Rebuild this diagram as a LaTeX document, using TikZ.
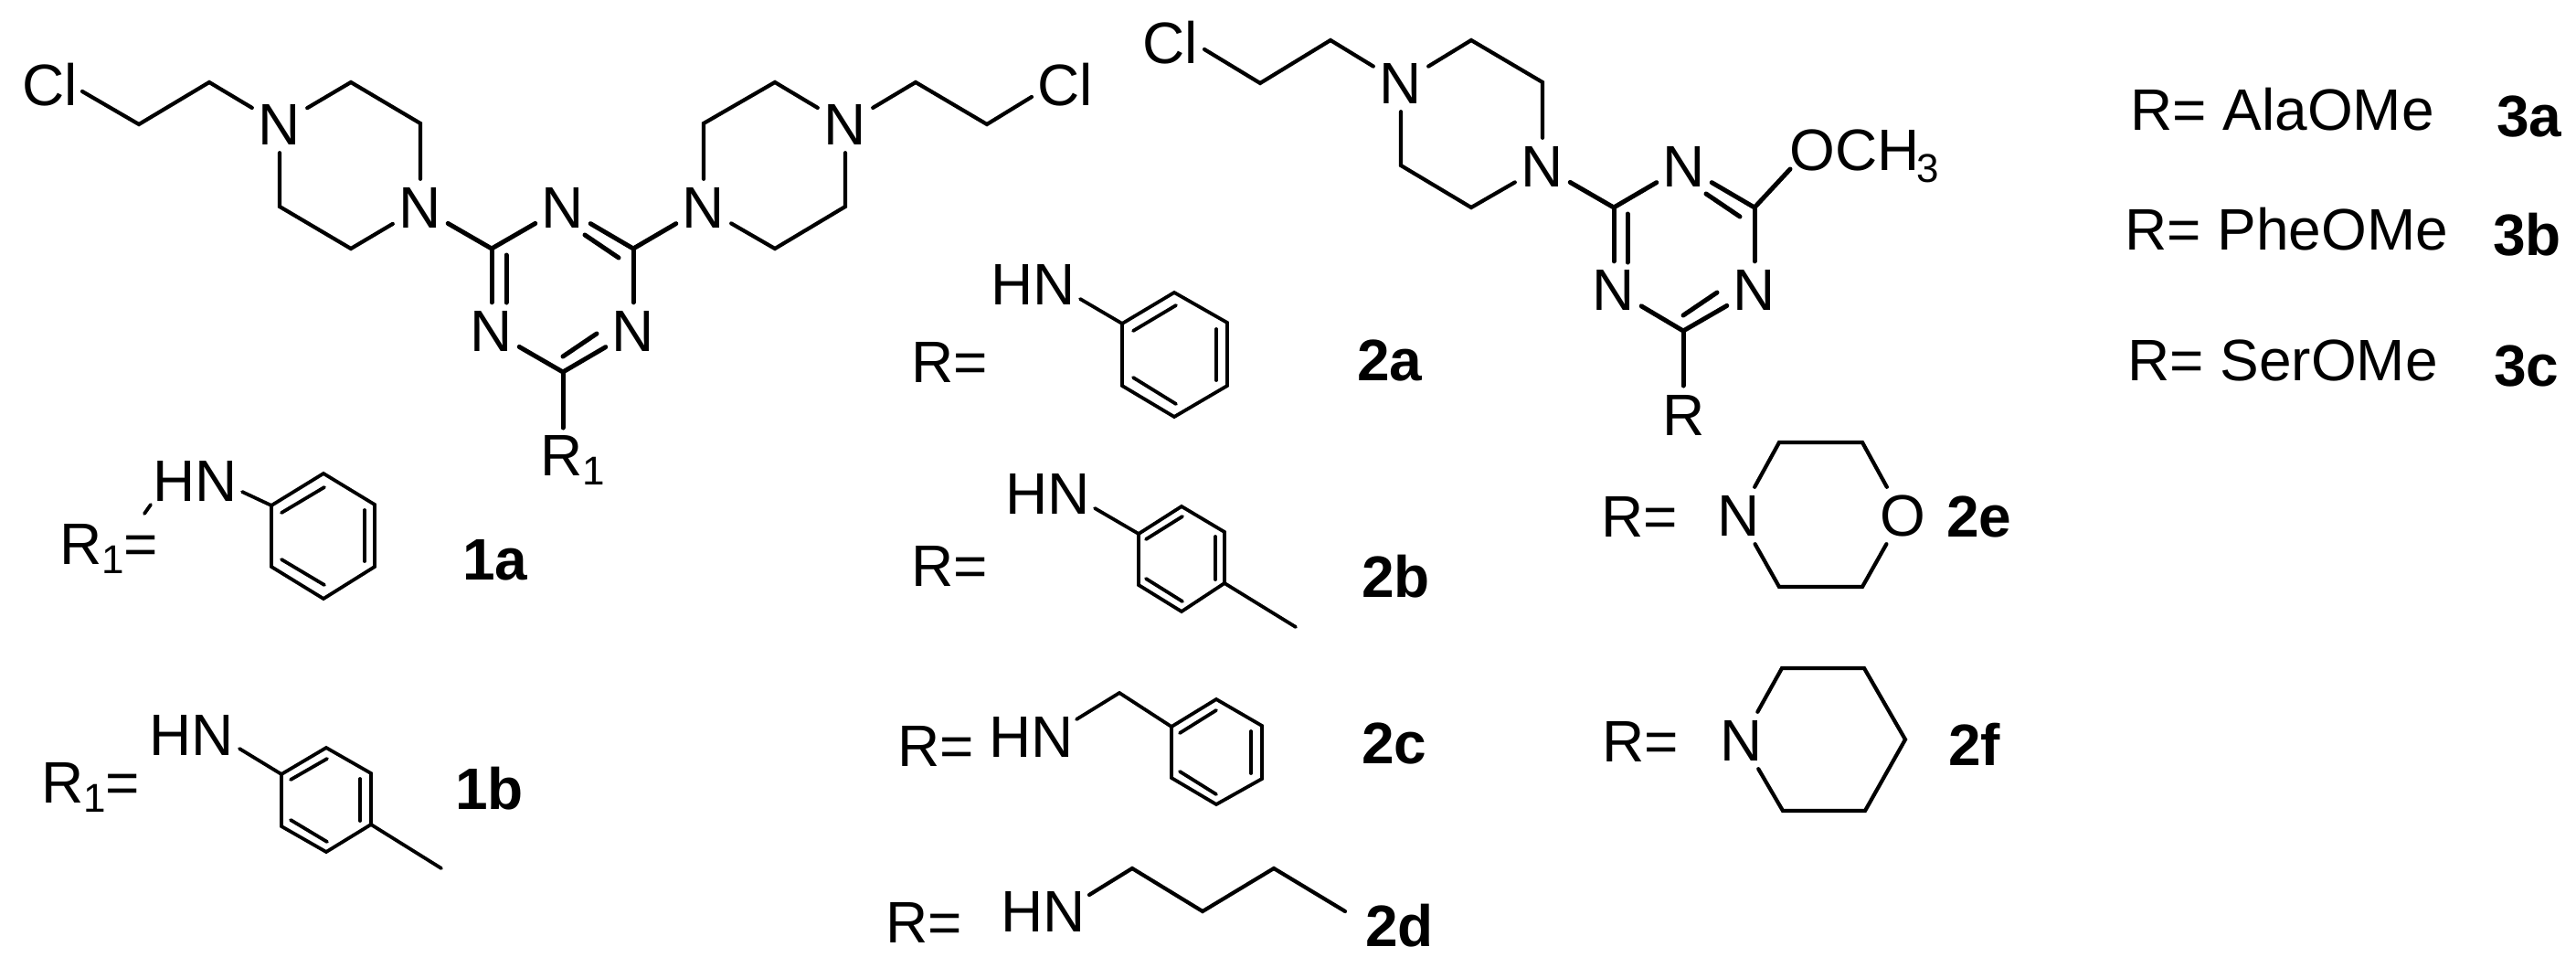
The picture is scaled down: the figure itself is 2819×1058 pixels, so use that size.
\documentclass[tikz,border=0pt]{standalone}
\usepackage{fontspec}
\setmainfont{Liberation Sans}
\newcommand{\subt}[2][-10pt]{\raisebox{#1}{\fontsize{44}{44}\selectfont #2}}
\tikzset{
  x=1pt,y=-1pt,
  bond/.style={line width=4.2pt,line cap=round,line join=miter,black},
  ringbond/.style={bond,line width=5pt},
  thinbond/.style={bond,line width=3.8pt},
  atom/.style={inner sep=0pt,minimum width=60pt,minimum height=62pt,font=\fontsize{64}{70}\selectfont},
  txt/.style={inner sep=0pt,anchor=base west,font=\fontsize{64}{70}\selectfont},
  tag/.style={inner sep=0pt,anchor=base west,font=\fontsize{64}{70}\selectfont\bfseries},
}
\begin{document}
\begin{tikzpicture}
\useasboundingbox (0,0) rectangle (2819,1058);
% ---------- molecule 1 ----------
\foreach \n/\x/\y in {a1N1/306/136,a1N2/460/227,a1N3/616/227,a1N4/538/362,a1N5/770/227,a1N6/693/362,a1N7/925/136}
  \node[atom] (\n) at (\x,\y) {N};
\foreach \n/\x/\y in {c1a/90/100,c1b/152/136,c1c/229/90,p1/306/226,p2/384/272,p3/460/135,p4/384/90,
  t1/538/272,t2/693/272,t3/616/407,i1a/554/279,i1b/554/331,i2a/640/257,i2b/677/282,i3a/616/390,i3b/653/365,r1e/616/468,
  q1/770/135,q2/848/90,q3/925/226,q4/848/272,d1/1002/90,d2/1080/136,d3/1129/106}
  \coordinate (\n) at (\x,\y);
\node[txt] (cl1) at (24,115) {Cl};
\node[txt] (cl2) at (1135,115) {Cl};
\node[txt] (r1lab) at (591,520) {R\subt{1}};
\draw[bond] (c1a) -- (c1b) -- (c1c) -- (a1N1);
\draw[bond] (a1N1) -- (p1) -- (p2) -- (a1N2);
\draw[bond] (a1N2) -- (p3) -- (p4) -- (a1N1);
\draw[ringbond] (a1N2) -- (t1) -- (a1N3);
\draw[ringbond] (t1) -- (a1N4);
\draw[ringbond] (i1a) -- (i1b);
\draw[ringbond] (a1N3) -- (t2) -- (a1N5);
\draw[ringbond] (i2a) -- (i2b);
\draw[ringbond] (t2) -- (a1N6);
\draw[ringbond] (a1N4) -- (t3) -- (a1N6);
\draw[ringbond] (i3a) -- (i3b);
\draw[ringbond] (t3) -- (r1e);
\draw[bond] (a1N5) -- (q1) -- (q2) -- (a1N7);
\draw[bond] (a1N7) -- (q3) -- (q4) -- (a1N5);
\draw[bond] (a1N7) -- (d1) -- (d2) -- (d3);
% ---------- molecule 2 ----------
\foreach \n/\x/\y in {b1N1/1533/91,b1N2/1688/182,b1N3/1843/182,b1N4/1766/317,b1N6/1920/317}
  \node[atom] (\n) at (\x,\y) {N};
\foreach \n/\x/\y in {e1/1318/54,e2/1379/91,e3/1456/44,g1/1533/181,g2/1610/227,g3/1688/90,g4/1610/44,
  u1/1766/227,u2/1920/227,u3/1842/362,j1a/1781/234,j1b/1781/287,j2a/1867/212,j2b/1904/237,j3a/1842/345,j3b/1879/320,
  re/1842/422,oe/1959/185}
  \coordinate (\n) at (\x,\y);
\node[txt] (cl3) at (1250,69) {Cl};
\node[txt] (och) at (1958,186) {OCH\kern-3pt\subt[-13pt]{3}};
\node[txt] (rlab) at (1819,476) {R};
\draw[bond] (e1) -- (e2) -- (e3) -- (b1N1);
\draw[bond] (b1N1) -- (g1) -- (g2) -- (b1N2);
\draw[bond] (b1N2) -- (g3) -- (g4) -- (b1N1);
\draw[ringbond] (b1N2) -- (u1) -- (b1N3);
\draw[ringbond] (u1) -- (b1N4);
\draw[ringbond] (j1a) -- (j1b);
\draw[ringbond] (b1N3) -- (u2) -- (oe);
\draw[ringbond] (j2a) -- (j2b);
\draw[ringbond] (u2) -- (b1N6);
\draw[ringbond] (b1N4) -- (u3) -- (b1N6);
\draw[ringbond] (j3a) -- (j3b);
\draw[ringbond] (u3) -- (re);
% ---------- 1a ----------
\node[txt] (r1a) at (65,617) {R\subt{1}=};
\node[txt] (hn1a) at (167,548) {HN};
\node[tag] (l1a) at (506,634) {1a};
\foreach \n/\x/\y in {k0/265/538,k1/297/553,k2/354/518,k3/410/552,k4/410/620,k5/354/655,k6/297/620,
  k7/308/561,k8/355/533,k9/399/558,k10/399/614,k11/308/612,k12/355/640,kd1/165/552,kd2/158/562}
  \coordinate (\n) at (\x,\y);
\draw[thinbond] (k0) -- (k1);
\draw[thinbond] (k1) -- (k2) -- (k3) -- (k4) -- (k5) -- (k6) -- cycle;
\draw[thinbond] (k7) -- (k8);
\draw[thinbond] (k9) -- (k10);
\draw[thinbond] (k11) -- (k12);
\draw[thinbond] (kd1) -- (kd2);
% ---------- 1b ----------
\node[txt] (r1b) at (45,878) {R\subt{1}=};
\node[txt] (hn1b) at (163,826) {HN};
\node[tag] (l1b) at (498,885) {1b};
\foreach \n/\x/\y in {m0/262/819,m1/308/847,m2/357/818,m3/406/846,m4/406/902,m5/357/932,m6/308/904,
  m7/318/853,m8/358/830,m9/394/852,m10/394/898,m11/318/897,m12/358/921,m13/483/950}
  \coordinate (\n) at (\x,\y);
\draw[thinbond] (m0) -- (m1);
\draw[thinbond] (m1) -- (m2) -- (m3) -- (m4) -- (m5) -- (m6) -- cycle;
\draw[thinbond] (m7) -- (m8);
\draw[thinbond] (m9) -- (m10);
\draw[thinbond] (m11) -- (m12);
\draw[thinbond] (m4) -- (m13);
% ---------- 2a ----------
\node[txt] (r2a) at (997,418) {R=};
\node[txt] (hn2a) at (1084,333) {HN};
\node[tag] (l2a) at (1485,416) {2a};
\foreach \n/\x/\y in {s0/1182/327,s1/1228/354,s2/1285/320,s3/1343/353,s4/1343/422,s5/1285/456,s6/1228/422,
  s7/1240/362,s8/1287/334,s9/1331/360,s10/1331/416,s11/1240/413,s12/1287/442}
  \coordinate (\n) at (\x,\y);
\draw[thinbond] (s0) -- (s1);
\draw[thinbond] (s1) -- (s2) -- (s3) -- (s4) -- (s5) -- (s6) -- cycle;
\draw[thinbond] (s7) -- (s8);
\draw[thinbond] (s9) -- (s10);
\draw[thinbond] (s11) -- (s12);
% ---------- 2b ----------
\node[txt] (r2b) at (997,641) {R=};
\node[txt] (hn2b) at (1100,562) {HN};
\node[tag] (l2b) at (1490,653) {2b};
\foreach \n/\x/\y in {v0/1198/556,v1/1246/584,v2/1293/554,v3/1340/582,v4/1340/638,v5/1293/669,v6/1246/640,
  v7/1254/590,v8/1294/565,v9/1330/587,v10/1330/634,v11/1254/633,v12/1294/658,v13/1418/686}
  \coordinate (\n) at (\x,\y);
\draw[thinbond] (v0) -- (v1);
\draw[thinbond] (v1) -- (v2) -- (v3) -- (v4) -- (v5) -- (v6) -- cycle;
\draw[thinbond] (v7) -- (v8);
\draw[thinbond] (v9) -- (v10);
\draw[thinbond] (v11) -- (v12);
\draw[thinbond] (v4) -- (v13);
% ---------- 2c ----------
\node[txt] (r2c) at (982,838) {R=};
\node[txt] (hn2c) at (1082,828) {HN};
\node[tag] (l2c) at (1490,835) {2c};
\foreach \n/\x/\y in {w0/1178/787,wc/1225/758,w1/1282/795,w2/1331/765,w3/1381/794,w4/1381/852,w5/1331/880,w6/1282/851,
  w7/1291/802,w8/1331/777,w9/1369/800,w10/1369/846,w11/1291/844,w12/1331/869}
  \coordinate (\n) at (\x,\y);
\draw[thinbond] (w0) -- (wc) -- (w1);
\draw[thinbond] (w1) -- (w2) -- (w3) -- (w4) -- (w5) -- (w6) -- cycle;
\draw[thinbond] (w7) -- (w8);
\draw[thinbond] (w9) -- (w10);
\draw[thinbond] (w11) -- (w12);
% ---------- 2d ----------
\node[txt] (r2d) at (969,1031) {R=};
\node[txt] (hn2d) at (1095,1019) {HN};
\node[tag] (l2d) at (1494,1035) {2d};
\foreach \n/\x/\y in {z0/1192/979,z1/1239/950,z2/1316/997,z3/1394/950,z4/1472/997}
  \coordinate (\n) at (\x,\y);
\draw[bond] (z0) -- (z1) -- (z2) -- (z3) -- (z4);
% ---------- 2e ----------
\node[txt] (r2e) at (1752,587) {R=};
\node[atom] (mN) at (1903,564) {N};
\node[atom] (mO) at (2082,564) {O};
\node[tag] (l2e) at (2130,587) {2e};
\foreach \n/\x/\y in {f1/1947/484,f2/2038/484,f3/2038/642,f4/1947/642}
  \coordinate (\n) at (\x,\y);
\draw[bond] (mN) -- (f1) -- (f2) -- (mO);
\draw[bond] (mO) -- (f3) -- (f4) -- (mN);
% ---------- 2f ----------
\node[txt] (r2f) at (1753,833) {R=};
\node[atom] (pN) at (1906,810) {N};
\node[tag] (l2f) at (2132,837) {2f};
\foreach \n/\x/\y in {h1/1950/731,h2/2040/731,h3/2085/809,h4/2041/887,h5/1951/887}
  \coordinate (\n) at (\x,\y);
\draw[bond] (pN) -- (h1) -- (h2) -- (h3) -- (h4) -- (h5) -- (pN);
% ---------- 3a-c ----------
\node[txt] (r3a) at (2331,142) {R= AlaOMe};
\node[tag] (l3a) at (2732,149) {3a};
\node[txt] (r3b) at (2325,273) {R= PheOMe};
\node[tag] (l3b) at (2728,279) {3b};
\node[txt] (r3c) at (2328,416) {R= SerOMe};
\node[tag] (l3c) at (2729,422) {3c};
\end{tikzpicture}
\end{document}
